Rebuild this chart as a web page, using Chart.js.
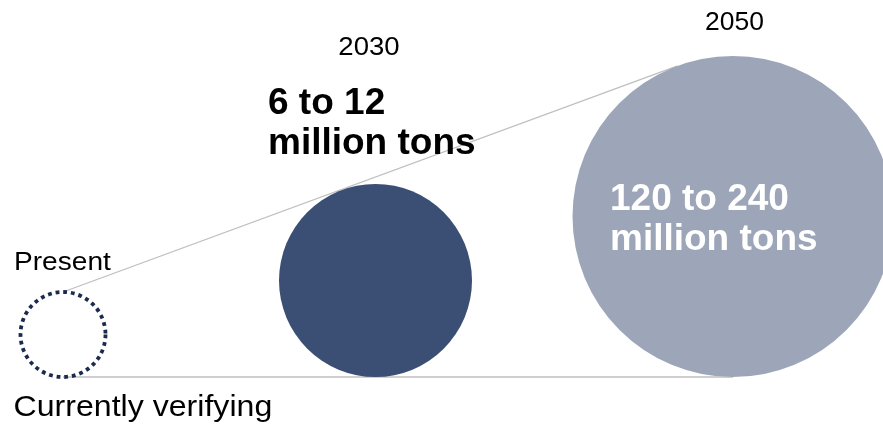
<!DOCTYPE html>
<html>
<head>
<meta charset="utf-8">
<title>Carbon removal outlook</title>
<script src="https://cdn.jsdelivr.net/npm/chart.js@4.4.1/dist/chart.umd.min.js"></script>
<style>
  html, body { margin: 0; padding: 0; background: #ffffff; }
  #wrap { width: 883px; height: 424px; }
</style>
</head>
<body>
<div id="wrap"><canvas id="outlook" width="883" height="424"></canvas></div>
<script>
// stages along the timeline
const STAGES = ["Present", "2030", "2050"];
// horizontal placement of each stage (axis units)
const STAGE_X = [63, 375.5, 733];
// circle size per stage, radius in axis units (1 unit = 1 px)
const STAGE_SIZE = [42.5, 96.5, 160.5];
// volume captions
const VOLUMES = ["Currently verifying", "6 to 12\nmillion tons", "120 to 240\nmillion tons"];

const FONT = "'Liberation Sans', Arial, sans-serif";
const GUIDE = "#bfbfbf";

// upper common tangent from the top of the first circle to the last circle
function tangentEnd() {
  const px = STAGE_X[0], py = STAGE_SIZE[0] * 2;
  const cx = STAGE_X[2], cy = STAGE_SIZE[2], r = STAGE_SIZE[2];
  const dx = cx - px, dy = cy - py;
  const dist = Math.hypot(dx, dy);
  const len = Math.sqrt(dist * dist - r * r);
  const ang = Math.atan2(dy, dx) + Math.asin(r / dist);
  return { x: px + len * Math.cos(ang), y: py + len * Math.sin(ang) };
}

function bubble(i) {
  return { x: STAGE_X[i], y: STAGE_SIZE[i], r: STAGE_SIZE[i] };
}

// dotted outline for the present-day circle
const dottedRing = {
  id: "dottedRing",
  beforeDatasetDraw(chart, args) {
    if (args.meta.index === 2) {
      chart.ctx.setLineDash([3.8, 3.9]);
      chart.ctx.lineCap = "butt";
    }
  },
  afterDatasetDraw(chart, args) {
    if (args.meta.index === 2) chart.ctx.setLineDash([]);
  }
};

function text(ctx, str, x, y, font, color, align, sx) {
  ctx.save();
  ctx.translate(x, y);
  ctx.scale(sx, 1);
  ctx.font = font;
  ctx.fillStyle = color;
  ctx.textAlign = align;
  ctx.textBaseline = "alphabetic";
  ctx.fillText(str, 0, 0);
  ctx.restore();
}

const captions = {
  id: "captions",
  afterDraw(chart) {
    const ctx = chart.ctx;
    const xs = chart.scales.x;
    // stage names
    text(ctx, STAGES[0], 14, 270, "26.5px " + FONT, "#000", "left", 1.06);
    text(ctx, STAGES[1], xs.getPixelForValue(STAGE_X[1]) - 6.5, 55, "26px " + FONT, "#000", "center", 1.06);
    text(ctx, STAGES[2], xs.getPixelForValue(STAGE_X[2]) + 1.5, 29.5, "25px " + FONT, "#000", "center", 1.06);
    // volumes
    text(ctx, VOLUMES[0], 13.5, 416, "30.3px " + FONT, "#000", "left", 1.06);
    VOLUMES[1].split("\n").forEach((ln, k) =>
      text(ctx, ln, 268, 113.5 + k * 40, "bold 37px " + FONT, "#000", "left", 1));
    VOLUMES[2].split("\n").forEach((ln, k) =>
      text(ctx, ln, 610, 210 + k * 40, "bold 37px " + FONT, "#fff", "left", 1));
  }
};

const tip = tangentEnd();

new Chart(document.getElementById("outlook"), {
  type: "bubble",
  data: {
    datasets: [
      {
        type: "line",
        data: [{ x: STAGE_X[0], y: STAGE_SIZE[0] * 2 }, tip],
        borderColor: GUIDE,
        borderWidth: 1.3,
        pointRadius: 0,
        clip: false,
        order: 3
      },
      {
        type: "line",
        data: [{ x: STAGE_X[0], y: 0 }, { x: STAGE_X[2], y: 0 }],
        borderColor: GUIDE,
        borderWidth: 1.3,
        pointRadius: 0,
        clip: false,
        order: 3
      },
      {
        label: STAGES[0],
        data: [bubble(0)],
        backgroundColor: "rgba(255,255,255,0)",
        borderColor: "#1c2a50",
        borderWidth: 3.8,
        clip: false,
        order: 1
      },
      {
        label: STAGES[1],
        data: [bubble(1)],
        backgroundColor: "#3b4e73",
        borderWidth: 0,
        clip: false,
        order: 1
      },
      {
        label: STAGES[2],
        data: [bubble(2)],
        backgroundColor: "#9da6b8",
        borderWidth: 0,
        clip: false,
        order: 1
      }
    ]
  },
  options: {
    responsive: false,
    animation: false,
    events: [],
    devicePixelRatio: 1,
    layout: { padding: 0, autoPadding: false },
    plugins: { legend: { display: false }, tooltip: { enabled: false } },
    scales: {
      x: { type: "linear", min: 0, max: 883, display: false },
      y: { type: "linear", min: -47, max: 377, display: false }
    }
  },
  plugins: [dottedRing, captions]
});
</script>
</body>
</html>
